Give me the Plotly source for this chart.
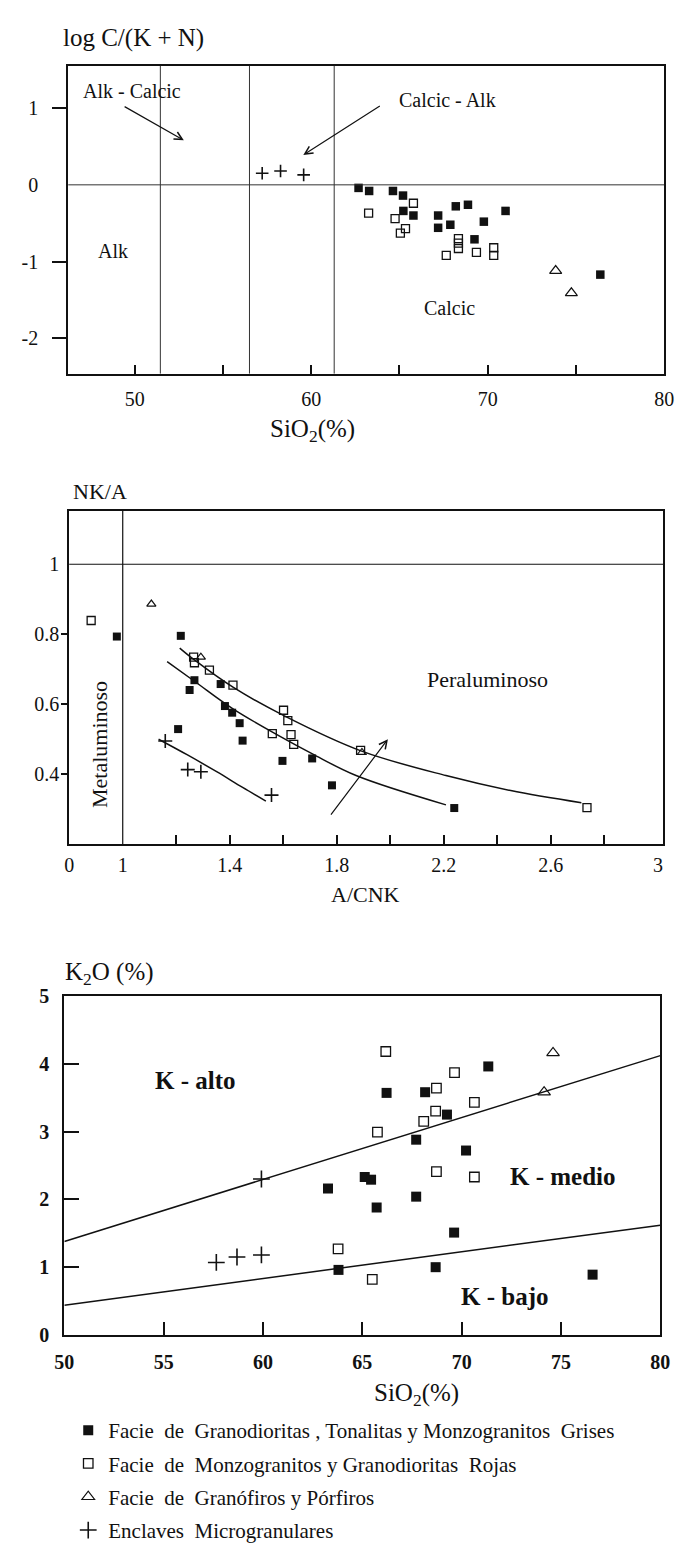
import plotly.graph_objects as go

W, H = 681, 1551
FONT = "Liberation Serif"
INK = "#111111"

# ---------------- Diagram 1: log C/(K+N) vs SiO2 ----------------
p1_grey_sio2 = [62.68, 63.28, 64.63, 65.20, 65.22, 65.79, 67.19, 67.19, 67.88, 68.19, 68.88, 69.78, 69.25, 71.01, 76.38]
p1_grey_logc = [-0.04, -0.08, -0.08, -0.14, -0.34, -0.40, -0.40, -0.56, -0.52, -0.28, -0.26, -0.48, -0.71, -0.34, -1.17]
p1_red_sio2 = [63.25, 64.75, 65.79, 65.34, 65.05, 67.65, 68.34, 68.34, 68.34, 69.36, 70.34, 70.34]
p1_red_logc = [-0.37, -0.44, -0.24, -0.57, -0.63, -0.92, -0.70, -0.76, -0.83, -0.88, -0.82, -0.92]
p1_gran_sio2 = [73.85, 74.74]
p1_gran_logc = [-1.12, -1.41]
p1_encl_sio2 = [57.22, 58.26, 59.57]
p1_encl_logc = [0.15, 0.18, 0.13]
p1_field_limits = [51.45, 56.5, 61.3]          # alkali-lime index boundaries
p1_xlabels = [50, 60, 70, 80]
p1_xticks = [50, 55, 60, 65, 70, 75]
p1_ylabels = [1, 0, -1, -2]
p1_yticks = [1, -1, -2]

# ---------------- Diagram 2: NK/A vs A/CNK ----------------
p2_grey_acnk = [0.978, 1.217, 1.268, 1.250, 1.366, 1.382, 1.409, 1.437, 1.448, 1.207, 1.597, 1.708, 1.782, 2.239]
p2_grey_nka = [0.793, 0.795, 0.668, 0.640, 0.657, 0.594, 0.575, 0.545, 0.495, 0.528, 0.437, 0.444, 0.367, 0.302]
p2_red_acnk = [0.882, 1.265, 1.268, 1.324, 1.412, 1.601, 1.617, 1.559, 1.629, 1.639, 1.889, 2.735]
p2_red_nka = [0.839, 0.734, 0.718, 0.697, 0.654, 0.582, 0.552, 0.515, 0.512, 0.484, 0.467, 0.303]
p2_gran_acnk = [1.107, 1.292, 1.894]
p2_gran_nka = [0.886, 0.734, 0.461]
p2_encl_acnk = [1.159, 1.243, 1.292, 1.556]
p2_encl_nka = [0.494, 0.412, 0.406, 0.339]
trend_red_acnk = [1.213, 1.268, 1.412, 1.604, 1.893, 2.208, 2.450, 2.714]
trend_red_nka = [0.760, 0.726, 0.648, 0.566, 0.465, 0.395, 0.352, 0.317]
trend_grey_acnk = [1.166, 1.268, 1.412, 1.593, 1.709, 1.872, 2.208]
trend_grey_nka = [0.721, 0.665, 0.586, 0.505, 0.457, 0.395, 0.311]
trend_encl_acnk = [1.134, 1.242, 1.351, 1.448, 1.535]
trend_encl_nka = [0.499, 0.454, 0.406, 0.361, 0.322]
evolution_acnk = [1.774, 1.991]
evolution_nka = [0.279, 0.499]
p2_xlabel_vals = [0.8, 1.0, 1.4, 1.8, 2.2, 2.6, 3.0]
p2_xlabel_text = ["0", "1", "1.4", "1.8", "2.2", "2.6", "3"]
p2_xticks = [1.2, 1.4, 1.6, 1.8, 2.0, 2.2, 2.4, 2.6, 2.8]
p2_ylabel_vals = [1.0, 0.8, 0.6, 0.4]
p2_ylabel_text = ["1", "0.8", "0.6", "0.4"]
p2_yticks = [0.8, 0.6, 0.4]

# ---------------- Diagram 3: K2O vs SiO2 ----------------
p3_grey_sio2 = [66.22, 68.16, 71.34, 69.26, 67.71, 70.22, 65.12, 65.44, 63.27, 67.71, 65.72, 69.62, 63.80, 68.69, 76.59]
p3_grey_k2o = [3.57, 3.58, 3.96, 3.25, 2.88, 2.72, 2.33, 2.29, 2.16, 2.04, 1.88, 1.51, 0.96, 1.00, 0.89]
p3_red_sio2 = [66.18, 69.64, 68.73, 68.69, 68.09, 70.64, 65.76, 68.73, 70.64, 63.78, 65.50]
p3_red_k2o = [4.18, 3.87, 3.64, 3.30, 3.15, 3.43, 2.99, 2.41, 2.33, 1.27, 0.82]
p3_gran_sio2 = [74.60, 74.15]
p3_gran_k2o = [4.16, 3.58]
p3_encl_sio2 = [59.92, 57.65, 58.69, 59.92]
p3_encl_k2o = [2.30, 1.07, 1.15, 1.18]
highk_sio2 = [50, 80]
highk_k2o = [1.38, 4.12]
lowk_sio2 = [50, 80]
lowk_k2o = [0.44, 1.62]
p3_xlabels = [50, 55, 60, 65, 70, 75, 80]
p3_xticks = [55, 60, 65, 70, 75]
p3_ylabels = [0, 1, 2, 3, 4, 5]
p3_yticks = [1, 2, 3, 4]

series_names = [
    "Facie\u00a0 de\u00a0 Granodioritas , Tonalitas y Monzogranitos\u00a0 Grises",
    "Facie\u00a0 de\u00a0 Monzogranitos y Granodioritas\u00a0 Rojas",
    "Facie\u00a0 de\u00a0 Granófiros y Pórfiros",
    "Enclaves\u00a0 Microgranulares",
]


def sym(kind, sizes):
    size = sizes[kind]
    if kind == 0:
        return dict(symbol="square", size=size, color=INK, line=dict(width=0))
    if kind == 1:
        return dict(symbol="square-open", size=size, color=INK, line=dict(width=1.3, color=INK))
    if kind == 2:
        return dict(symbol="triangle-up-open", size=size, color=INK, line=dict(width=1.2, color=INK))
    return dict(symbol="cross-thin", size=size, color=INK, line=dict(width=1.6, color=INK))


fig = go.Figure()

# marker sizes per diagram: filled square, open square, triangle, cross
panels = [
    ("x", "y", [(p1_grey_sio2, p1_grey_logc), (p1_red_sio2, p1_red_logc),
                (p1_gran_sio2, p1_gran_logc), (p1_encl_sio2, p1_encl_logc)], [8.5, 8, 10.5, 9], False),
    ("x2", "y2", [(p2_grey_acnk, p2_grey_nka), (p2_red_acnk, p2_red_nka),
                  (p2_gran_acnk, p2_gran_nka), (p2_encl_acnk, p2_encl_nka)], [8, 8, 8, 10], False),
    ("x3", "y3", [(p3_grey_sio2, p3_grey_k2o), (p3_red_sio2, p3_red_k2o),
                  (p3_gran_sio2, p3_gran_k2o), (p3_encl_sio2, p3_encl_k2o)], [10, 9.5, 11, 12], True),
]

# curves and boundary lines of diagrams 2 and 3
for xs, ys in [(trend_red_acnk, trend_red_nka), (trend_grey_acnk, trend_grey_nka),
               (trend_encl_acnk, trend_encl_nka)]:
    fig.add_trace(go.Scatter(x=xs, y=ys, mode="lines", line=dict(color=INK, width=1.5, shape="spline", smoothing=1.0),
                             xaxis="x2", yaxis="y2", showlegend=False, hoverinfo="skip"))
for xs, ys in [(highk_sio2, highk_k2o), (lowk_sio2, lowk_k2o)]:
    fig.add_trace(go.Scatter(x=xs, y=ys, mode="lines", line=dict(color=INK, width=1.5),
                             xaxis="x3", yaxis="y3", showlegend=False, hoverinfo="skip"))

for xa, ya, groups, sizes, legend in panels:
    for k, (xs, ys) in enumerate(groups):
        fig.add_trace(go.Scatter(
            x=xs, y=ys, mode="markers", marker=sym(k, sizes), name=series_names[k],
            legendgroup=f"g{k}", showlegend=legend, xaxis=xa, yaxis=ya, cliponaxis=False,
        ))

base_axis = dict(showline=True, mirror=True, linecolor=INK, linewidth=2, showgrid=False,
                 zeroline=False, ticks="", tickmode="array",
                 tickfont=dict(family=FONT, size=20, color=INK))


def ax(**kw):
    d = dict(base_axis)
    d.update(kw)
    return d


def minor(vals, where, length):
    return dict(tickmode="array", tickvals=vals, ticks=where, ticklen=length, tickwidth=1.5, tickcolor=INK)


fig.update_layout(
    width=W, height=H, margin=dict(l=0, r=0, t=0, b=0),
    paper_bgcolor="white", plot_bgcolor="white",
    font=dict(family=FONT, color=INK),
    xaxis=ax(domain=[60 / W, 674 / W], range=[46.23, 80.0], anchor="y",
             tickvals=p1_xlabels, ticktext=[str(v) for v in p1_xlabels],
             minor=minor(p1_xticks, "inside", 9), ticklabelstandoff=6),
    yaxis=ax(domain=[1 - 370 / H, 1 - 56 / H], range=[-2.46, 1.55], anchor="x",
             tickvals=p1_ylabels, ticktext=[str(v) for v in p1_ylabels],
             minor=minor(p1_yticks, "outside", 14), ticklabelstandoff=24),
    xaxis2=ax(domain=[61 / W, 673 / W], range=[0.8, 3.02], anchor="y2",
              tickvals=p2_xlabel_vals, ticktext=p2_xlabel_text,
              minor=minor(p2_xticks, "inside", 9), ticklabelstandoff=2),
    yaxis2=ax(domain=[1 - 850 / H, 1 - 510 / H], range=[0.199, 1.153], anchor="x2",
              tickvals=p2_ylabel_vals, ticktext=p2_ylabel_text,
              minor=minor(p2_yticks, "outside", 6), ticklabelstandoff=4),
    xaxis3=ax(domain=[56 / W, 670 / W], range=[50, 80], anchor="y3",
              tickvals=p3_xlabels, ticktext=[str(v) for v in p3_xlabels],
              tickfont=dict(family=FONT, size=20, color=INK, weight="bold"),
              minor=minor(p3_xticks, "inside", 13), ticklabelstandoff=8),
    yaxis3=ax(domain=[1 - 1351 / H, 1 - 1005 / H], range=[0, 5], anchor="x3",
              tickvals=p3_ylabels, ticktext=[str(v) for v in p3_ylabels],
              tickfont=dict(family=FONT, size=20, color=INK, weight="bold"),
              minor=minor(p3_yticks, "inside", 15), ticklabelstandoff=9),
    legend=dict(x=60 / W, y=1 - 1428 / H, xanchor="left", yanchor="top",
                font=dict(family=FONT, size=21, color=INK), bgcolor="rgba(0,0,0,0)",
                tracegroupgap=3, traceorder="grouped"),
)

# field boundaries
for v in p1_field_limits:
    fig.add_shape(type="line", xref="x", yref="y domain", x0=v, x1=v, y0=0, y1=1,
                  line=dict(color="#333333", width=1))
fig.add_shape(type="line", xref="x domain", yref="y", x0=0, x1=1, y0=0, y1=0,
              line=dict(color="#333333", width=1))
fig.add_shape(type="line", xref="x2", yref="y2 domain", x0=1.0, x1=1.0, y0=0, y1=1,
              line=dict(color=INK, width=1.2))
fig.add_shape(type="line", xref="x2 domain", yref="y2", x0=0, x1=1, y0=1.0, y1=1.0,
              line=dict(color=INK, width=1.2))


def label(text, x, y, xref, yref, size, **kw):
    fig.add_annotation(text=text, x=x, y=y, xref=xref, yref=yref, showarrow=False,
                       font=dict(family=FONT, size=size, color=INK), **kw)


def arrow(x_tail, y_tail, x_head, y_head, xa, ya):
    fig.add_annotation(x=x_head, y=y_head, ax=x_tail, ay=y_tail, xref=xa, yref=ya,
                       axref=xa, ayref=ya, text="", showarrow=True, arrowhead=5,
                       arrowsize=1.3, arrowwidth=1.2, arrowcolor=INK)


# diagram 1 texts
label("log C/(K + N)", 53 / W, 1 - 28 / H, "paper", "paper", 25, xanchor="left", yanchor="middle")
label("SiO<sub>2</sub>(%)", 312 / W, 1 - 428 / H, "paper", "paper", 25, xanchor="center", yanchor="middle")
label("Alk - Calcic", 49.84, 1.22, "x", "y", 20)
label("Calcic - Alk", 67.74, 1.11, "x", "y", 20)
label("Alk", 48.74, -0.86, "x", "y", 20)
label("Calcic", 67.85, -1.60, "x", "y", 20)
arrow(49.34, 1.03, 52.78, 0.58, "x", "y")
arrow(63.97, 1.04, 59.55, 0.39, "x", "y")

# diagram 2 texts
label("NK/A", 63 / W, 1 - 490 / H, "paper", "paper", 22, xanchor="left", yanchor="middle")
label("A/CNK", 366 / W, 1 - 902 / H, "paper", "paper", 22, xanchor="center", yanchor="middle")
label("Peraluminoso", 2.363, 0.671, "x2", "y2", 22)
label("Metaluminoso", 0.911, 0.485, "x2", "y2", 22, textangle=-90)
arrow(evolution_acnk[0], evolution_nka[0], evolution_acnk[1], evolution_nka[1], "x2", "y2")

# diagram 3 texts
label("K<sub>2</sub>O (%)", 55 / W, 1 - 982 / H, "paper", "paper", 25, xanchor="left", yanchor="middle")
label("SiO<sub>2</sub>(%)", 419 / W, 1 - 1412 / H, "paper", "paper", 25, xanchor="center", yanchor="middle")
for txt, xv, yv in [("K - alto", 56.58, 3.76), ("K - medio", 75.1, 2.34), ("K - bajo", 72.2, 0.57)]:
    fig.add_annotation(text=f"<b>{txt}</b>", x=xv, y=yv, xref="x3", yref="y3", showarrow=False,
                       font=dict(family=FONT, size=25, color=INK))

fig.write_html("out.html")
